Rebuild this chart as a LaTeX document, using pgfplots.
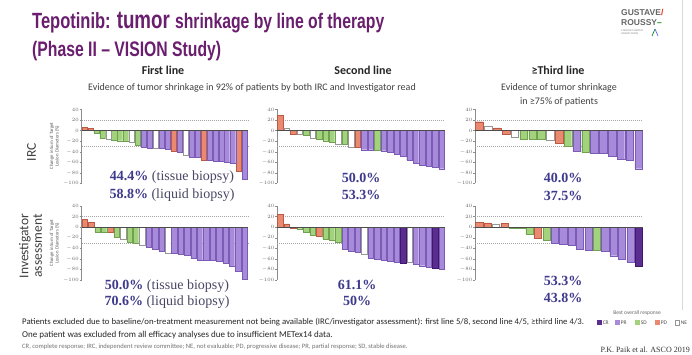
\documentclass[border=0pt]{standalone}
\usepackage{pgfplots}
\pgfplotsset{compat=1.18}
\usepackage{fontspec}
\setmainfont{Carlito}
\newfontfamily\arialf{Liberation Sans}
\newfontfamily\timesf{Liberation Serif}
\definecolor{titc}{RGB}{106,30,110}
\definecolor{prc}{RGB}{167,139,218}
\definecolor{prd}{RGB}{122,92,182}
\definecolor{crc}{RGB}{92,45,145}
\definecolor{crd}{RGB}{60,25,110}
\definecolor{sdc}{RGB}{163,210,125}
\definecolor{sdd}{RGB}{112,160,80}
\definecolor{pdc}{RGB}{233,137,111}
\definecolor{pdd}{RGB}{185,90,70}
\definecolor{ned}{RGB}{150,150,150}
\definecolor{pctc}{RGB}{62,58,140}
\definecolor{parc}{RGB}{72,70,100}
\definecolor{axg}{RGB}{140,140,140}
\pgfplotsset{
  wf/.style={scale only axis, height=74pt, xmin=0.5, ymin=-100, ymax=40,
    axis x line=none, axis y line*=left, xtick=\empty,
    ytick={-100,-80,...,40}, tick align=outside, major tick length=1.8pt,
    y axis line style={draw=axg, line width=0.4pt}, ytick style={draw=axg, line width=0.4pt},
    yticklabel style={font=\fontsize{4.6}{5}\selectfont, text=black!60, inner sep=0.8pt},
    clip=false},
  pr/.style={ybar, bar width=0.86, bar shift=0pt, fill=prc, draw=prd, line width=0.3pt},
  cr/.style={ybar, bar width=0.86, bar shift=0pt, fill=crc, draw=crd, line width=0.3pt},
  sd/.style={ybar, bar width=0.86, bar shift=0pt, fill=sdc, draw=sdd, line width=0.3pt},
  pd/.style={ybar, bar width=0.86, bar shift=0pt, fill=pdc, draw=pdd, line width=0.3pt},
  ne/.style={ybar, bar width=0.86, bar shift=0pt, fill=white, draw=ned, line width=0.3pt},
  dl/.style={draw=black!35, line width=0.4pt, dash pattern=on 1pt off 1pt, mark=none},
  zl/.style={draw=black!70, line width=1pt, mark=none},
}
\newcommand{\dlines}[1]{\addplot[dl] coordinates {(0.5,20) (#1,20)};\addplot[dl] coordinates {(0.5,-30) (#1,-30)};}
\newcommand{\zline}[1]{\addplot[zl] coordinates {(0.5,0) (#1,0)};}
\begin{document}
\begin{tikzpicture}
\begin{scope}[x=1pt,y=1pt]
\path[use as bounding box, fill=white] (0,0) rectangle (692,355);
\draw[black!15, line width=0.6pt] (682,45) -- (682,355);
% title
\node[anchor=base west, xscale=0.75, inner sep=0, font=\arialf\bfseries, text=titc] at (32,326.7)
  {\fontsize{22}{24}\selectfont Tepotinib: \fontsize{25}{26}\selectfont tumor \fontsize{21}{24}\selectfont shrinkage by line of therapy};
\node[anchor=base west, xscale=0.75, inner sep=0, font=\arialf\bfseries, text=titc] at (32,298.3)
  {\fontsize{21}{24}\selectfont (Phase II – VISION Study)};
% logo
\node[anchor=west, inner sep=0, font=\arialf\bfseries\fontsize{8.5}{9}\selectfont, text=black!60] at (621,342) {GUSTAVE\textcolor{red!75!orange}{/}};
\node[anchor=west, inner sep=0, font=\arialf\bfseries\fontsize{8.5}{9}\selectfont, text=black!60] at (621,332) {ROUSSY\textcolor{green!55!black}{–}};
\node[anchor=west, inner sep=0, font=\arialf\fontsize{2.5}{3}\selectfont, text=black!50, align=left] at (621,323) {CANCER CAMPUS\\GRAND PARIS};
\draw[green!55!black, line width=0.7pt] (652,319) -- (655,326);
\draw[blue!60, line width=0.7pt] (655,326) -- (658,319);
% headers
\node[font=\bfseries\fontsize{12}{14}\selectfont, text=black!85] at (163,285) {First line};
\node[font=\bfseries\fontsize{12}{14}\selectfont, text=black!85] at (363,285) {Second line};
\node[font=\bfseries\fontsize{12}{14}\selectfont, text=black!85] at (558,285) {≥Third line};
\node[font=\fontsize{10}{12}\selectfont, text=black!75] at (252,267) {Evidence of tumor shrinkage in 92\% of patients by both IRC and Investigator read};
\node[align=center, font=\fontsize{10}{14.5}\selectfont, text=black!75] at (559,260) {Evidence of tumor shrinkage\\in ≥75\% of patients};
% row labels
\node[rotate=90, font=\fontsize{13.5}{15}\selectfont, text=black!75] at (31.5,202.5) {IRC};
\node[rotate=90, align=center, font=\fontsize{13.5}{13.5}\selectfont, text=black!75] at (30.5,109) {Investigator\\assessment};
\node[rotate=90, align=center, font=\fontsize{4.8}{5.4}\selectfont, text=black!65] at (54.5,209) {Change in Sum of Target\\Lesion Diameters (\%)};
\node[rotate=90, align=center, font=\fontsize{4.8}{5.4}\selectfont, text=black!65] at (54.5,112) {Change in Sum of Target\\Lesion Diameters (\%)};
\end{scope}

% ---- Row 1: IRC
\begin{axis}[wf, at={(81.5pt,171.5pt)}, anchor=south west, width=166.5pt, xmax=28.5]
\dlines{28.5}
\addplot[pd] coordinates {(1,6) (2,4) (16,-39) (21,-56) (27,-77)};
\addplot[sd] coordinates {(3,-5) (4,-14) (6,-18) (7,-19) (8,-20) (10,-28)};
\addplot[ne] coordinates {(5,-16) (9,-22) (13,-34) (18,-47)};
\addplot[pr] coordinates {(11,-32) (12,-33) (14,-34) (15,-35) (17,-40) (19,-50) (20,-51) (22,-56) (23,-57) (24,-58) (25,-60) (26,-62) (28,-92)};
\zline{28.5}
\end{axis}
\begin{axis}[wf, at={(277pt,171.5pt)}, anchor=south west, width=168pt, xmax=26.5]
\dlines{26.5}
\addplot[pd] coordinates {(1,29) (3,-7) (13,-32)};
\addplot[ne] coordinates {(2,5) (4,-7) (6,-14) (10,-26) (12,-32)};
\addplot[sd] coordinates {(5,-8) (7,-17) (8,-19) (9,-22) (11,-26) (16,-37)};
\addplot[pr] coordinates {(14,-36) (15,-36) (17,-38) (18,-40) (19,-44) (20,-48) (21,-56) (22,-62) (23,-66) (24,-68) (25,-70) (26,-72)};
\zline{26.5}
\end{axis}
\begin{axis}[wf, at={(475pt,171.5pt)}, anchor=south west, width=168pt, xmax=19.5]
\dlines{19.5}
\addplot[pd] coordinates {(1,17) (3,5) (4,-6) (10,-23)};
\addplot[ne] coordinates {(2,8) (5,-13) (9,-18)};
\addplot[sd] coordinates {(6,-16) (7,-16) (8,-17) (11,-29) (13,-41)};
\addplot[pr] coordinates {(12,-39) (14,-42) (15,-43) (16,-49) (17,-54) (18,-56) (19,-72)};
\zline{19.5}
\end{axis}

% ---- Row 2: Investigator
\begin{axis}[wf, at={(81.5pt,75pt)}, anchor=south west, width=166.5pt, xmax=26.5]
\dlines{26.5}
\addplot[pd] coordinates {(1,15) (2,9) (5,-10)};
\addplot[sd] coordinates {(3,-9) (4,-10) (6,-19) (8,-28) (9,-31)};
\addplot[ne] coordinates {(7,-22) (10,-35) (14,-50)};
\addplot[pr] coordinates {(11,-38) (12,-41) (13,-45) (15,-50) (16,-51) (17,-53) (18,-59) (19,-62) (20,-63) (21,-63) (22,-65) (23,-68) (24,-74) (25,-84) (26,-98)};
\zline{26.5}
\end{axis}
\begin{axis}[wf, at={(277pt,75pt)}, anchor=south west, width=168pt, xmax=26.5]
\dlines{26.5}
\addplot[pd] coordinates {(1,24) (2,6) (3,-1) (7,-17)};
\addplot[sd] coordinates {(4,-3) (5,-10) (6,-16) (8,-22) (9,-25) (10,-28)};
\addplot[pr] coordinates {(11,-42) (12,-45) (13,-48) (15,-58) (16,-60) (17,-63) (18,-65) (19,-67) (22,-70) (23,-73) (24,-75) (26,-80)};
\addplot[ne] coordinates {(14,-51) (21,-67)};
\addplot[cr] coordinates {(20,-68) (25,-77)};
\zline{26.5}
\end{axis}
\begin{axis}[wf, at={(475pt,75pt)}, anchor=south west, width=168pt, xmax=20.5]
\dlines{20.5}
\addplot[pd] coordinates {(1,9) (2,8) (4,7) (8,-21)};
\addplot[ne] coordinates {(3,6)};
\addplot[sd] coordinates {(5,-1) (6,-2) (7,-13) (9,-24) (15,-44)};
\addplot[pr] coordinates {(10,-30) (11,-33) (12,-35) (13,-41) (14,-43) (16,-46) (17,-54) (18,-60) (19,-66)};
\addplot[cr] coordinates {(20,-74)};
\zline{20.5}
\end{axis}

\begin{scope}[x=1pt,y=1pt]
% percentages
\begin{scope}[every node/.style={font=\timesf\fontsize{14}{16}\selectfont, inner sep=0}]
\node at (172,178) {\textcolor{pctc}{\bfseries 44.4\%} \textcolor{parc}{(tissue biopsy)}};
\node at (172,160) {\textcolor{pctc}{\bfseries 58.8\%} \textcolor{parc}{(liquid biopsy)}};
\node at (167,69) {\textcolor{pctc}{\bfseries 50.0\%} \textcolor{parc}{(tissue biopsy)}};
\node at (167,53) {\textcolor{pctc}{\bfseries 70.6\%} \textcolor{parc}{(liquid biopsy)}};
\node at (361,177) {\textcolor{pctc}{\bfseries 50.0\%}};
\node at (361,160) {\textcolor{pctc}{\bfseries 53.3\%}};
\node at (357,70) {\textcolor{pctc}{\bfseries 61.1\%}};
\node at (357,54) {\textcolor{pctc}{\bfseries 50\%}};
\node at (563,177) {\textcolor{pctc}{\bfseries 40.0\%}};
\node at (563,159) {\textcolor{pctc}{\bfseries 37.5\%}};
\node at (563,74) {\textcolor{pctc}{\bfseries 53.3\%}};
\node at (563,57) {\textcolor{pctc}{\bfseries 43.8\%}};
\end{scope}
% legend
\node[font=\fontsize{5.5}{6}\selectfont, text=black!60] at (637,42) {Best overall response};
\begin{scope}[every node/.style={anchor=west, font=\fontsize{5.5}{6}\selectfont, inner sep=0.6pt, text=black!70}]
\fill[crc] (597,30) rectangle ++(4.5,4.5); \node at (602,32.2) {CR};
\fill[prc] (615,30) rectangle ++(4.5,4.5); \node at (620,32.2) {PR};
\fill[sdc] (635,30) rectangle ++(4.5,4.5); \node at (640,32.2) {SD};
\fill[pdc] (655,30) rectangle ++(4.5,4.5); \node at (660,32.2) {PD};
\draw[ned, fill=white, line width=0.3pt] (675,30) rectangle ++(4.5,4.5); \node at (680,32.2) {NE};
\end{scope}
% footnotes
\node[anchor=west, inner sep=0, xscale=1.02, font=\fontsize{8.6}{9}\selectfont, text=black!85] at (22,33) {Patients excluded due to baseline/on-treatment measurement not being available (IRC/investigator assessment): first line 5/8, second line 4/5, ≥third line 4/3.};
\node[anchor=west, inner sep=0, font=\fontsize{9}{10}\selectfont, text=black!85] at (22,20) {One patient was excluded from all efficacy analyses due to insufficient METex14 data.};
\node[anchor=west, inner sep=0, font=\fontsize{6.6}{7}\selectfont, text=black!55] at (22,8) {CR, complete response; IRC, independent review committee; NE, not evaluable; PD, progressive disease; PR, partial response; SD, stable disease.};
\node[anchor=east, inner sep=0, font=\timesf\fontsize{8}{9}\selectfont, text=black!80] at (690,5) {P.K. Paik et al. ASCO 2019};
\end{scope}
\end{tikzpicture}
\end{document}
